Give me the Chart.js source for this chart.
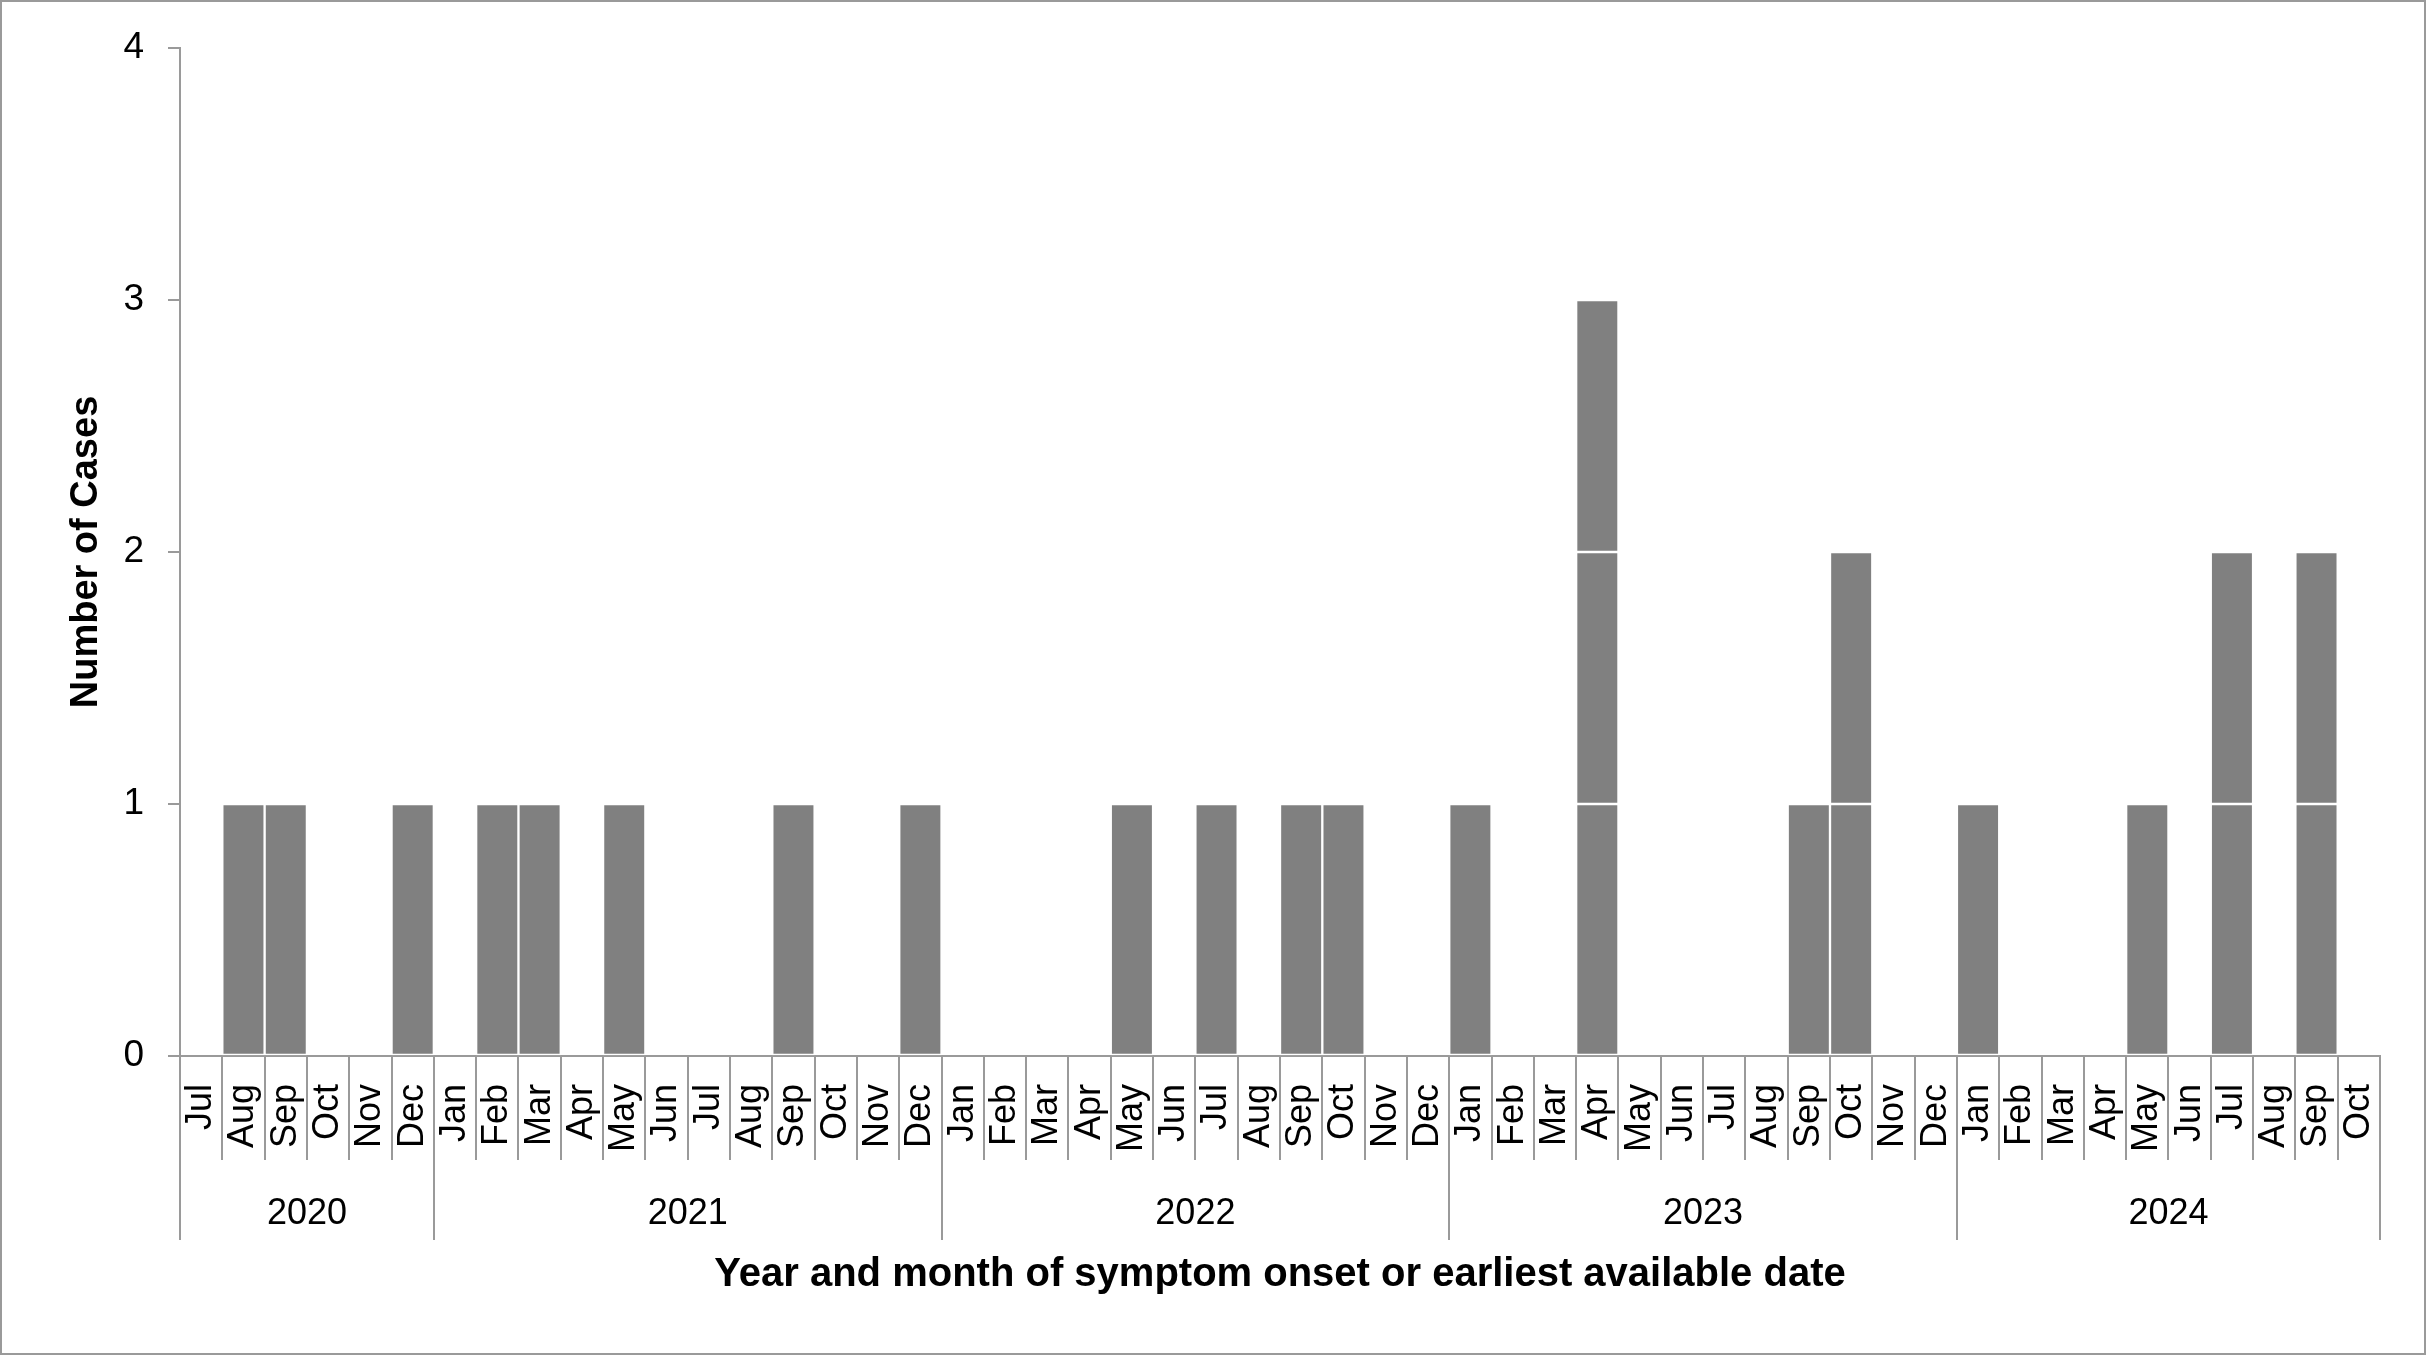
<!DOCTYPE html>
<html>
<head>
<meta charset="utf-8">
<script src="https://cdn.jsdelivr.net/npm/chart.js@4.4.1/dist/chart.umd.min.js"></script>
<style>
  html, body { margin: 0; padding: 0; background: #fff; }
  #wrap { position: relative; width: 2428px; height: 1357px; }
  #frame { position: absolute; left: 0; top: 0; width: 2422px; height: 1351px; border: 2.5px solid #9a9a9a; pointer-events: none; }
</style>
</head>
<body>
<div id="wrap">
  <canvas id="c"></canvas>
  <div id="frame"></div>
</div>
<script>
const months = [
  'Jul','Aug','Sep','Oct','Nov','Dec',
  'Jan','Feb','Mar','Apr','May','Jun','Jul','Aug','Sep','Oct','Nov','Dec',
  'Jan','Feb','Mar','Apr','May','Jun','Jul','Aug','Sep','Oct','Nov','Dec',
  'Jan','Feb','Mar','Apr','May','Jun','Jul','Aug','Sep','Oct','Nov','Dec',
  'Jan','Feb','Mar','Apr','May','Jun','Jul','Aug','Sep','Oct'
];
const years = ['2020','2021','2022','2023','2024'];
const monthsInYear = [6, 12, 12, 12, 10];
const cases = [
  0,1,1,0,0,1,
  0,1,1,0,1,0,0,0,1,0,0,1,
  0,0,0,0,1,0,1,0,1,1,0,0,
  1,0,0,3,0,0,0,0,1,2,0,0,
  1,0,0,0,1,0,2,0,2,0
];
const yTicks = [0, 1, 2, 3, 4];

// one stacked layer per case so each case shows as its own block
const maxCases = Math.max(...cases);
const datasets = [];
for (let k = 1; k <= maxCases; k++) {
  datasets.push({
    label: 'Case ' + k,
    data: cases.map(v => v >= k ? 1 : null),
    backgroundColor: '#808080',
    borderColor: '#ffffff',
    borderWidth: 1.5,
    borderSkipped: false,
    barPercentage: 1,
    categoryPercentage: 1
  });
}

// year group boundaries and centres on the index scale
const bounds = [-0.5];
const centres = [];
let acc = 0;
monthsInYear.forEach(n => {
  centres.push(acc + n / 2 - 0.5);
  acc += n;
  bounds.push(acc - 0.5);
});

const FONT = "'Liberation Sans', Arial, sans-serif";
const GRID = '#9a9a9a';

new Chart(document.getElementById('c'), {
  type: 'bar',
  data: { labels: months, datasets: datasets },
  options: {
    responsive: true,
    maintainAspectRatio: false,
    animation: false,
    layout: { padding: { left: 0, right: 48, top: 48, bottom: 0 } },
    plugins: { legend: { display: false }, tooltip: { enabled: false } },
    scales: {
      x: {
        stacked: true,
        position: 'bottom',
        weight: 0,
        offset: true,
        grid: { offset: true, drawOnChartArea: false, drawTicks: true, tickLength: 104, color: GRID, lineWidth: 2 },
        border: { display: true, color: GRID, width: 2 },
        ticks: {
          autoSkip: false, minRotation: 90, maxRotation: 90, padding: -76,
          color: '#000', font: { family: FONT, size: 36 }
        },
        afterFit: s => { s.height = 104; }
      },
      x2: {
        type: 'linear',
        position: 'bottom',
        weight: 1,
        min: -0.5,
        max: months.length - 0.5,
        offset: false,
        afterBuildTicks: s => {
          s.ticks = bounds.concat(centres).sort((a, b) => a - b).map(v => ({ value: v }));
        },
        grid: {
          offset: false,
          drawOnChartArea: false, drawTicks: true, tickLength: 80, lineWidth: 2,
          color: ctx => (ctx.tick && bounds.includes(ctx.tick.value)) ? GRID : 'rgba(0,0,0,0)'
        },
        border: { display: false },
        ticks: {
          autoSkip: false, maxRotation: 0, minRotation: 0, padding: -48,
          color: '#000', font: { family: FONT, size: 36 },
          callback: v => { const i = centres.indexOf(v); return i >= 0 ? years[i] : ''; }
        },
        title: {
          display: true,
          text: 'Year and month of symptom onset or earliest available date',
          color: '#000',
          font: { family: FONT, size: 40, weight: 'bold' },
          padding: { top: 0, bottom: 58 }
        },
        afterFit: s => { s.height = 197; }
      },
      y: {
        stacked: true,
        min: 0,
        max: 4,
        afterBuildTicks: s => { s.ticks = yTicks.map(v => ({ value: v })); },
        grid: { drawOnChartArea: false, drawTicks: true, tickLength: 12, color: GRID, lineWidth: 2 },
        border: { display: true, color: GRID, width: 2 },
        ticks: { padding: 24, color: '#000', font: { family: FONT, size: 37 } },
        title: {
          display: true,
          text: 'Number of Cases',
          color: '#000',
          font: { family: FONT, size: 38, weight: 'bold' },
          padding: { top: 64, bottom: 0 }
        },
        afterFit: s => { s.width = 180; }
      }
    }
  }
});
</script>
</body>
</html>
